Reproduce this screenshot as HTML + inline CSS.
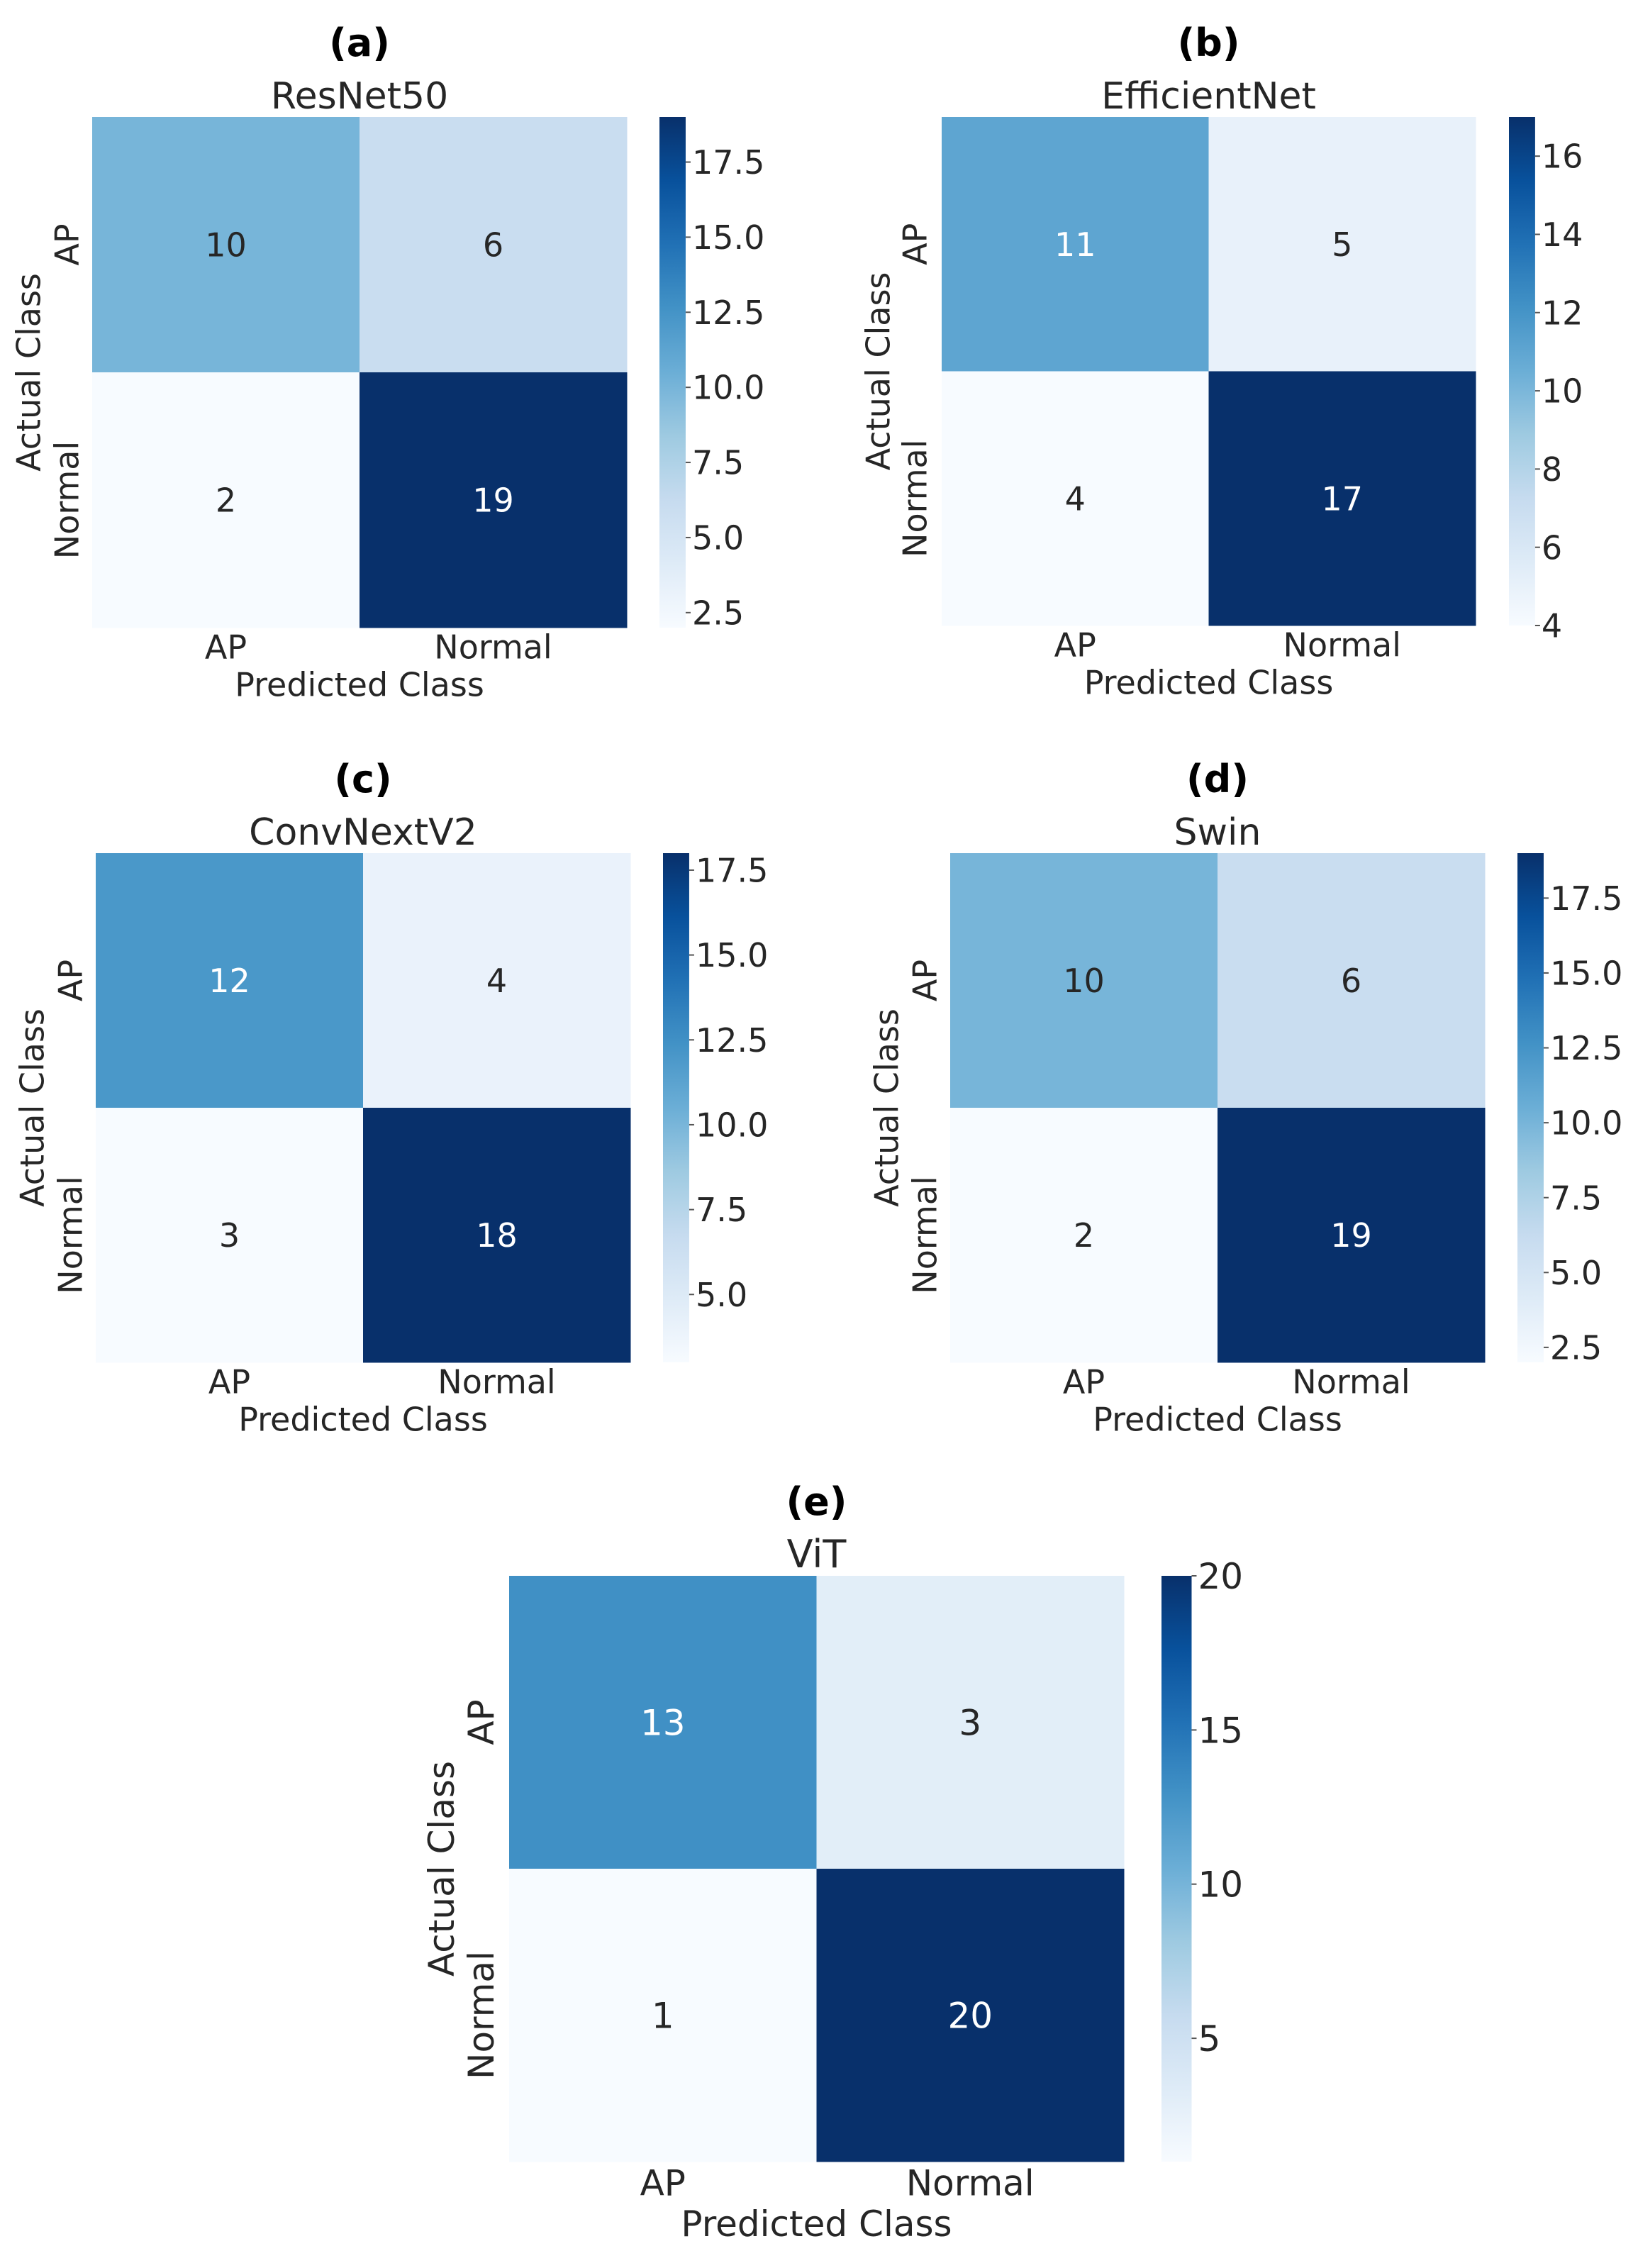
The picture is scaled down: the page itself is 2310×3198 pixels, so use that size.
<!DOCTYPE html>
<html><head><meta charset="utf-8"><style>
html,body{margin:0;padding:0;background:#fff;}
svg{display:block;font-family:"DejaVu Sans","Liberation Sans",sans-serif;}
</style></head>
<body>
<svg id="fig" width="2310" height="3198" viewBox="0 0 2310 3198" xmlns="http://www.w3.org/2000/svg"></svg>
<script>
const classLabels = ["AP", "Normal"];
const panelLetters = ["(a)", "(b)", "(c)", "(d)", "(e)"];
const modelNames = ["ResNet50", "EfficientNet", "ConvNextV2", "Swin", "ViT"];
const resnetValues = [[10, 6], [2, 19]];
const effnetValues = [[11, 5], [4, 17]];
const convnextValues = [[12, 4], [3, 18]];
const swinValues = [[10, 6], [2, 19]];
const vitValues = [[13, 3], [1, 20]];
const resnetTicks = [2.5, 5.0, 7.5, 10.0, 12.5, 15.0, 17.5];
const effnetTicks = [4, 6, 8, 10, 12, 14, 16];
const convnextTicks = [5.0, 7.5, 10.0, 12.5, 15.0, 17.5];
const swinTicks = [2.5, 5.0, 7.5, 10.0, 12.5, 15.0, 17.5];
const vitTicks = [5, 10, 15, 20];

const stops = ["#f7fbff","#deebf7","#c6dbef","#9ecae1","#6baed6","#4292c6","#2171b5","#08519c","#08306b"];
function hex(c){return [parseInt(c.slice(1,3),16),parseInt(c.slice(3,5),16),parseInt(c.slice(5,7),16)];}
function blues(t){
  t=Math.max(0,Math.min(1,t));
  const p=t*(stops.length-1), i=Math.min(Math.floor(p),stops.length-2), f=p-i;
  const a=hex(stops[i]), b=hex(stops[i+1]);
  return "rgb("+a.map((v,k)=>Math.round(v+(b[k]-v)*f)).join(",")+")";
}
const NS="http://www.w3.org/2000/svg";
const svg=document.getElementById("fig");
function el(tag,attrs,parent){const e=document.createElementNS(NS,tag);for(const k in attrs)e.setAttribute(k,attrs[k]);(parent||svg).appendChild(e);return e;}

const layouts=[
 {x:130,y:165,w:754,h:720,cb:930,fs:46,tf:52,lf:54,yl:40,yt:94},
 {x:1328,y:165,w:753,h:717,cb:2128,fs:46,tf:52,lf:54,yl:1238,yt:1290},
 {x:135,y:1203,w:754,h:718,cb:935,fs:46,tf:52,lf:54,yl:45,yt:99},
 {x:1340,y:1203,w:754,h:718,cb:2140,fs:46,tf:52,lf:54,yl:1250,yt:1304},
 {x:718,y:2222,w:867,h:826,cb:1638,fs:50,tf:54,lf:54,yl:622,yt:678}
];
const datasets=[resnetValues,effnetValues,convnextValues,swinValues,vitValues];
const tickSets=[resnetTicks,effnetTicks,convnextTicks,swinTicks,vitTicks];
const tickFmt=[1,0,1,1,0];

datasets.forEach((vals,pi)=>{
  const L=layouts[pi];
  const g=el("g",{});
  
  
  const flat=vals.flat(); const vmin=Math.min(...flat), vmax=Math.max(...flat);
  const cw=L.w/2, ch=L.h/2;
  const cx=L.x+L.w/2;
  const letter=el("text",{x:cx,y:L.y-86,"text-anchor":"middle","font-size":L.lf,"font-weight":"bold",fill:"#000"},g);
  letter.textContent=panelLetters[pi];
  
  
  const title=el("text",{x:cx,y:L.y-12,"text-anchor":"middle","font-size":L.tf,fill:"#262626"},g);
  title.textContent=modelNames[pi];
  
  
  vals.forEach((row,r)=>row.forEach((v,c)=>{
    const t=(v-vmin)/(vmax-vmin);
    const rect=el("rect",{x:L.x+c*cw,y:L.y+r*ch,width:cw+0.5,height:ch+0.5,fill:blues(t)},g);
    
    
    const tx=el("text",{x:L.x+c*cw+cw/2,y:L.y+r*ch+ch/2+L.fs*0.36,"text-anchor":"middle","font-size":L.fs,fill:t>0.5?"#ffffff":"#262626"},g);
    tx.textContent=v;
    
    
  }));
  classLabels.forEach((lab,i)=>{
    const xt=el("text",{x:L.x+i*cw+cw/2,y:L.y+L.h+L.fs*0.95,"text-anchor":"middle","font-size":L.fs,fill:"#262626"},g);
    xt.textContent=lab;
    
    
    const yy=L.y+i*ch+ch/2;
    const yt=el("text",{x:0,y:0,"text-anchor":"middle","font-size":L.fs,fill:"#262626",transform:"translate("+(L.yt+L.fs*0.36)+","+yy+") rotate(-90)"},g);
    yt.textContent=lab;
    
    
  });
  const xl=el("text",{x:cx,y:L.y+L.h+L.fs*2.1,"text-anchor":"middle","font-size":L.fs,fill:"#262626"},g);
  xl.textContent="Predicted Class";
  
  
  const yl=el("text",{x:0,y:0,"text-anchor":"middle","font-size":L.fs,fill:"#262626",transform:"translate("+(L.yl+L.fs*0.36)+","+(L.y+L.h/2)+") rotate(-90)"},g);
  yl.textContent="Actual Class";
  
  
  const cbw=L.w*0.049;
  const gid="grad"+pi;
  const defs=el("defs",{},g);
  const lg=el("linearGradient",{id:gid,x1:0,y1:1,x2:0,y2:0},defs);
  for(let k=0;k<=16;k++){el("stop",{offset:k/16,"stop-color":blues(k/16)},lg);}
  const cb=el("rect",{x:L.cb,y:L.y,width:cbw,height:L.h,fill:"url(#"+gid+")"},g);
  
  
  tickSets[pi].forEach(tv=>{
    const ty=L.y+L.h-(tv-vmin)/(vmax-vmin)*L.h;
    el("line",{x1:L.cb+cbw,x2:L.cb+cbw+7,y1:ty,y2:ty,stroke:"#555","stroke-width":2},g);
    const tl=el("text",{x:L.cb+cbw+9,y:ty+L.fs*0.36,"font-size":L.fs,fill:"#262626"},g);
    tl.textContent=tickFmt[pi]?tv.toFixed(1):String(tv);
    
    
  });
});
</script>
</body></html>
